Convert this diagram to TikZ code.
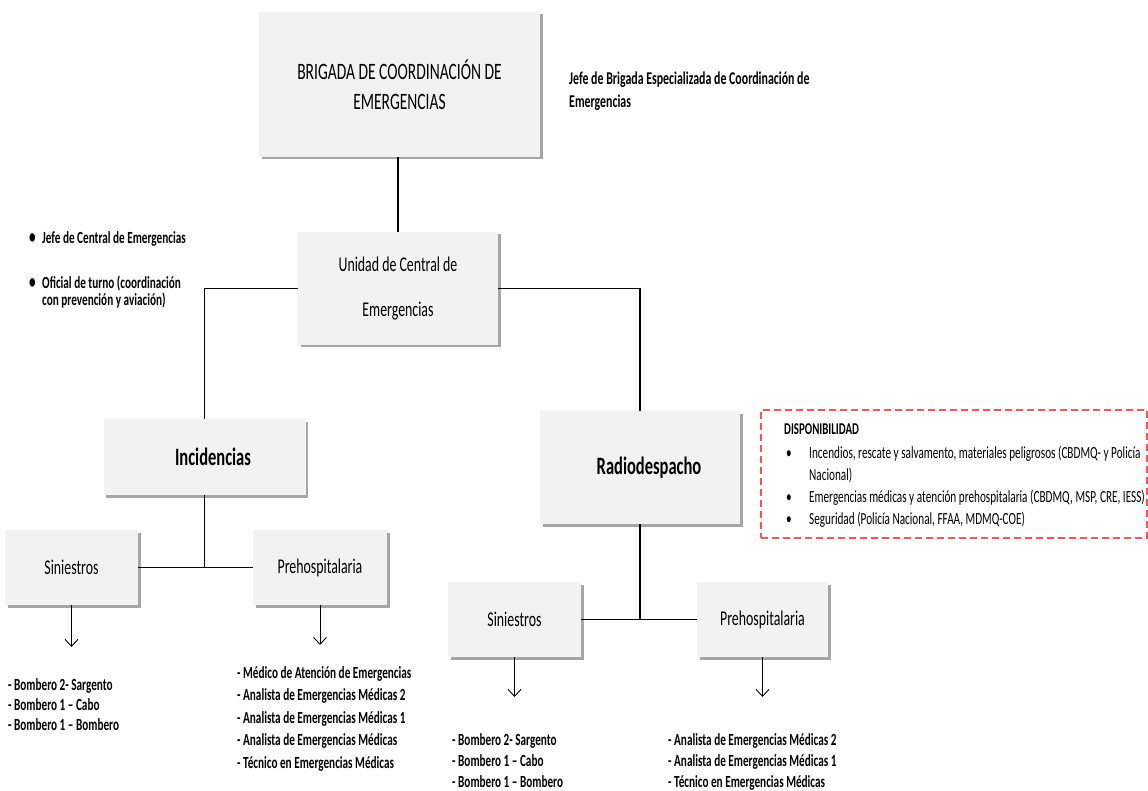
\documentclass[tikz,border=0pt]{standalone}
\usepackage{fontspec}
\setmainfont{Carlito}[FakeStretch=0.66]
\usetikzlibrary{shadows,arrows.meta}
\definecolor{boxfill}{HTML}{F2F2F2}
\definecolor{shadowgray}{HTML}{A6A6A6}
\definecolor{dashred}{HTML}{F0565E}

\begin{document}
\begin{tikzpicture}[x=1pt,y=-1pt,
  orgbox/.style={rectangle, fill=boxfill, inner sep=0pt, align=center,
    drop shadow={shadow xshift=2.5pt, shadow yshift=-2.5pt, fill=shadowgray, opacity=1}},
  regtext/.style={font=\fontsize{21}{45}\selectfont},
  headtext/.style={font=\fontsize{25}{30}\selectfont\bfseries},
  link/.style={line width=1.5pt, black},
  pointer/.style={line width=0.9pt, -{Straight Barb[length=7pt,width=13pt,line width=0.9pt]}},
  notetext/.style={anchor=base west, inner sep=0pt, font=\fontsize{17}{20}\selectfont\bfseries},
  dispotext/.style={anchor=base west, inner sep=0pt, font=\fontsize{17}{20}\selectfont},
  dispobox/.style={rectangle, draw=dashred, line width=1.1pt, dash pattern=on 7pt off 4pt, inner sep=0pt},
]
\useasboundingbox (0,0) rectangle (1148,791);
\fill[white] (0,0) rectangle (1148,791);

% --- organisation boxes
\node[orgbox, minimum width=281, minimum height=145, font=\fontsize{23.5}{30}\selectfont]
  (brig) at (399.5,84.5) {BRIGADA DE COORDINACIÓN DE\\EMERGENCIAS};
\node[orgbox, regtext, minimum width=200, minimum height=113]
  (unit) at (398,288.5) {Unidad de Central de\\Emergencias};
\node[orgbox, headtext, minimum width=202, minimum height=76]
  (incid) at (204.5,457) {\hspace*{17pt}Incidencias};
\node[orgbox, headtext, minimum width=200, minimum height=113]
  (radio) at (640,467.5) {\hspace*{18pt}Radiodespacho};
\node[orgbox, regtext, minimum width=133, minimum height=75] (sinL) at (71.5,567.5) {Siniestros};
\node[orgbox, regtext, minimum width=134, minimum height=75] (preL) at (320,567.5) {Prehospitalaria};
\node[orgbox, regtext, minimum width=133, minimum height=75] (sinR) at (514.5,619.5) {Siniestros};
\node[orgbox, regtext, minimum width=131, minimum height=75] (preR) at (762.5,619.5) {Prehospitalaria};

% --- connectors
\draw[link] (unit.north) -- (unit.north |- brig.south);
\draw[link] (unit.west) -| (incid.north);
\draw[link] (unit.east) -| (radio.north);
\draw[link] (sinL.east) -- (preL.west);
\draw[link] (incid.south) -- (incid.south |- sinL.east);
\draw[link] (sinR.east) -- (preR.west);
\draw[link] (radio.south) -- (radio.south |- sinR.east);

% --- arrows towards the staff lists
\coordinate (sinLtip) at (71.5,647);
\coordinate (preLtip) at (320,645);
\coordinate (sinRtip) at (514.5,697);
\coordinate (preRtip) at (762.5,697);
\draw[pointer] (sinL.south) -- (sinLtip);
\draw[pointer] (preL.south) -- (preLtip);
\draw[pointer] (sinR.south) -- (sinRtip);
\draw[pointer] (preR.south) -- (preRtip);

% --- side notes
\node[notetext, font=\fontsize{18}{20}\selectfont\bfseries] (jb1) at (569,85) {Jefe de Brigada Especializada de Coordinación de};
\node[notetext, font=\fontsize{18}{20}\selectfont\bfseries] (jb2) at (569,108) {Emergencias};
\node[notetext] (jc1) at (29,244) {\makebox[13pt][l]{\fontsize{20}{20}\selectfont•}Jefe de Central de Emergencias};
\node[notetext] (of1) at (29,289) {\makebox[13pt][l]{\fontsize{20}{20}\selectfont•}Oficial de turno (coordinación};
\node[notetext] (of2) at (42,306) {con prevención y aviación)};

% --- staff lists
\foreach \t [count=\i from 0] in {- Bombero 2- Sargento, - Bombero 1 – Cabo, - Bombero 1 – Bombero}
  \node[notetext] (bl\i) at (8,690+20*\i) {\t};
\foreach \t [count=\i from 0] in {- Médico de Atención de Emergencias, - Analista de Emergencias Médicas 2,
    - Analista de Emergencias Médicas 1, - Analista de Emergencias Médicas, - Técnico en Emergencias Médicas}
  \node[notetext] (ml\i) at (237,678+22.5*\i) {\t};
\foreach \t [count=\i from 0] in {- Bombero 2- Sargento, - Bombero 1 – Cabo, - Bombero 1 – Bombero}
  \node[notetext] (br\i) at (452,745+21*\i) {\t};
\foreach \t [count=\i from 0] in {- Analista de Emergencias Médicas 2, - Analista de Emergencias Médicas 1,
    - Técnico en Emergencias Médicas}
  \node[notetext] (ar\i) at (668,745+21*\i) {\t};

% --- availability panel
\node[dispobox, minimum width=386, minimum height=128] (dispo) at (954,474) {};
\node[dispotext, font=\fontsize{16.5}{20}\selectfont\bfseries] (dh) at (784,434) {DISPONIBILIDAD};
\node[dispotext] (d1) at (786,458) {\makebox[23pt][l]{•}Incendios, rescate y salvamento, materiales peligrosos (CBDMQ- y Policía};
\node[dispotext] (d1b) at (809,480) {Nacional)};
\node[dispotext] (d2) at (786,502) {\makebox[23pt][l]{•}Emergencias médicas y atención prehospitalaria (CBDMQ, MSP, CRE, IESS)};
\node[dispotext] (d3) at (786,524) {\makebox[23pt][l]{•}Seguridad (Policía Nacional, FFAA, MDMQ-COE)};
\end{tikzpicture}
\end{document}
